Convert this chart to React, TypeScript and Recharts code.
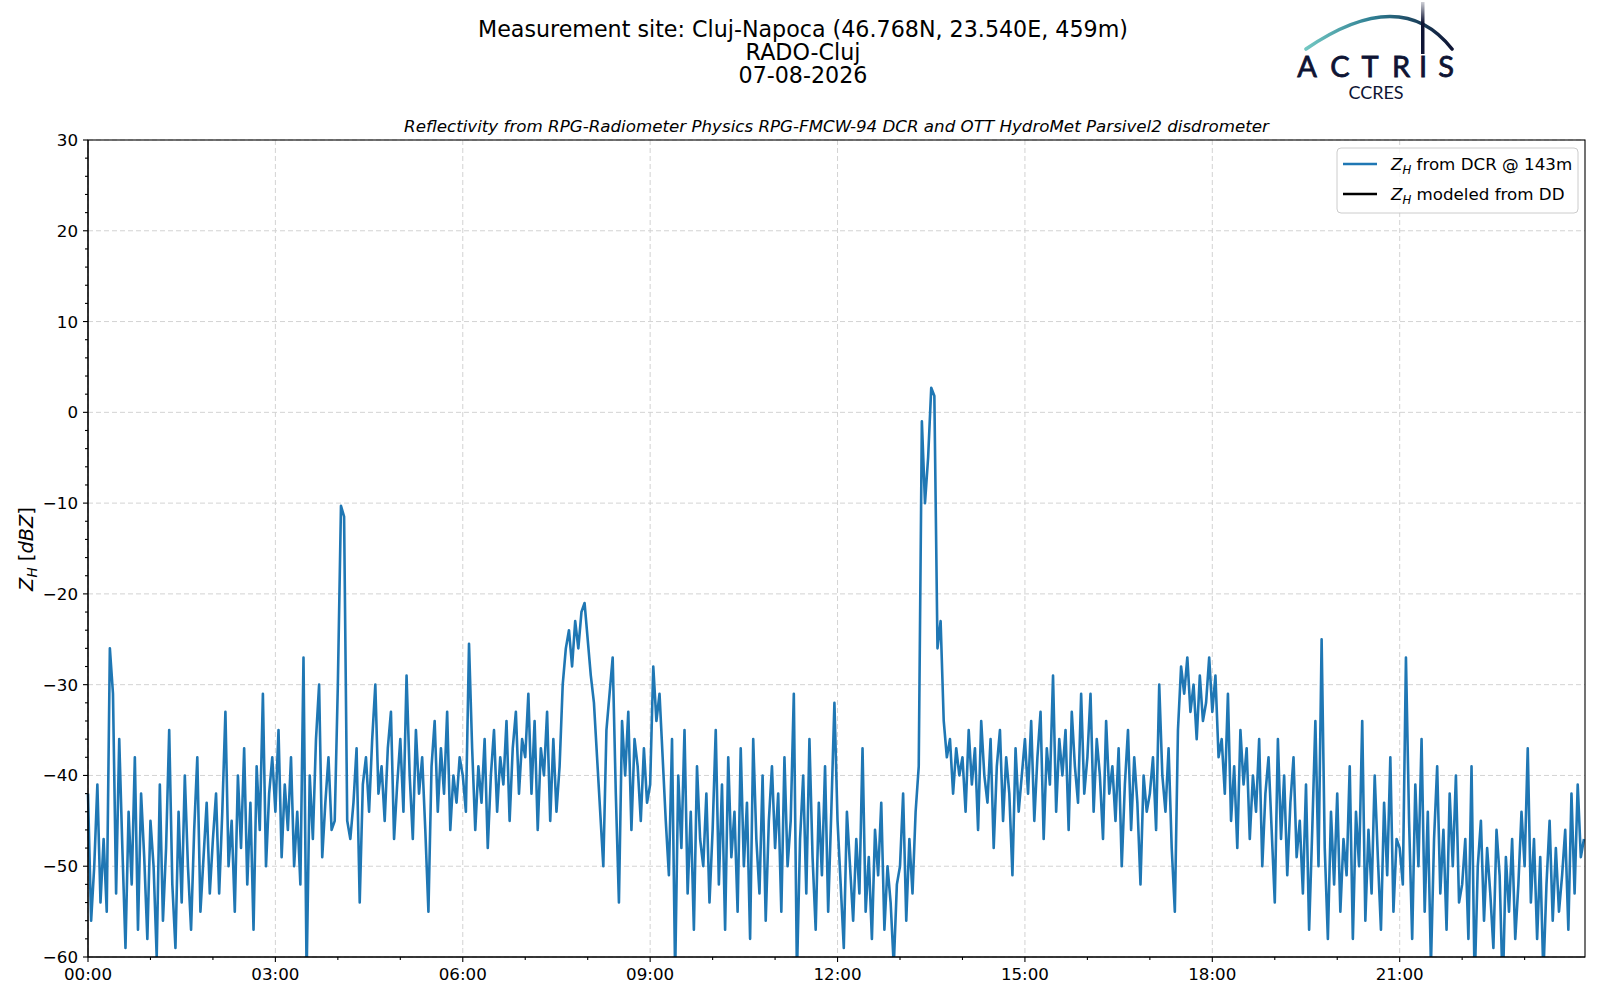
import { LineChart, Line, XAxis, YAxis, CartesianGrid } from "recharts";

// DCR reflectivity at 143 m, one value every 3 minutes, 6 hours per array
const zhNightMorning = [
  -42, -56, -50, -41, -54, -47, -55, -26, -31, -53, -36, -48, -59, -44, -52, -38, -57, -42, -49, -58,
  -45, -50, -60, -41, -56, -48, -35, -52, -59, -44, -54, -40, -50, -57, -46, -38, -55, -49, -43, -53,
  -47, -42, -53, -44, -33, -50, -45, -55, -40, -48, -37, -52, -43, -57, -39, -46, -31, -50, -42, -38,
  -44, -35, -49, -41, -46, -38, -50, -44, -52, -27, -62, -40, -47, -36, -30, -49, -43, -38, -46, -45,
  -30, -10.3, -11.5, -45, -47, -43, -37, -54, -41, -38, -44, -36, -30, -42, -39, -45, -37, -33, -47, -41,
  -36, -44, -29, -40, -47, -35, -42, -38, -46, -55, -39, -34, -44, -37, -42, -33, -46, -40, -43, -38,
];
const zhMorningNoon = [
  -40, -44, -25.5, -37, -46, -39, -43, -36, -48, -40, -35, -44, -38, -41, -34, -45, -37, -33, -42, -36,
  -38, -31, -42, -34, -46, -37, -40, -33, -45, -36, -44, -39, -30, -26, -24, -28, -23, -26, -22, -21,
  -25, -29, -32, -38, -44, -50, -35, -31, -27, -42, -54, -34, -40, -33, -46, -36, -39, -45, -37, -43,
  -41, -28, -34, -31, -38, -45, -51, -36, -62, -40, -48, -35, -53, -44, -57, -39, -47, -50, -42, -54,
  -46, -35, -52, -41, -57, -38, -49, -44, -55, -37, -50, -43, -58, -36, -47, -53, -40, -56, -45, -39,
  -48, -42, -55, -38, -50, -45, -31, -62, -47, -40, -53, -36, -49, -57, -43, -51, -39, -55, -44, -32,
];
const zhAfternoon = [
  -45, -52, -59, -44, -50, -56, -47, -53, -37, -55, -49, -58, -46, -51, -43, -57, -50, -54, -61, -52,
  -50, -42, -56, -47, -53, -44, -39, -1, -10, -5, 2.7, 1.8, -26, -23, -34, -38, -36, -42, -37, -40,
  -38, -44, -35, -41, -37, -46, -34, -40, -43, -36, -48, -39, -35, -45, -38, -42, -51, -37, -44, -40,
  -36, -42, -34, -45, -38, -33, -47, -37, -41, -29, -44, -36, -40, -35, -46, -33, -39, -43, -31, -42,
  -38, -31, -44, -36, -40, -47, -34, -42, -39, -45, -37, -50, -41, -35, -46, -38, -43, -52, -40, -44,
  -42, -38, -46, -30, -40, -44, -37, -48, -55, -35, -28, -31, -27, -33, -30, -36, -29, -34, -32, -27,
];
const zhEvening = [
  -33, -29, -38, -36, -42, -31, -45, -39, -48, -35, -41, -37, -47, -40, -44, -36, -50, -42, -38, -46,
  -54, -36, -47, -40, -51, -43, -38, -49, -45, -53, -41, -57, -46, -34, -50, -25, -48, -58, -44, -52,
  -42, -55, -47, -51, -39, -58, -44, -50, -34, -56, -46, -53, -40, -49, -57, -43, -51, -38, -55, -47,
  -48, -52, -27, -45, -58, -41, -50, -36, -55, -44, -61, -47, -39, -53, -46, -57, -42, -50, -40, -54,
  -52, -47, -58, -39, -63, -50, -45, -56, -48, -53, -59, -46, -51, -64, -49, -55, -47, -58, -52, -44,
  -50, -37, -54, -47, -58, -49, -62, -52, -45, -56, -48, -55, -51, -46, -57, -42, -53, -41, -49, -47,
];

const STEP_MIN = 3;
const xMajorTicks = [0, 180, 360, 540, 720, 900, 1080, 1260];
const xTickLabels = ["00:00", "03:00", "06:00", "09:00", "12:00", "15:00", "18:00", "21:00"];
const xMinorTicks = [0, 60, 120, 180, 240, 300, 360, 420, 480, 540, 600, 660, 720, 780, 840, 900, 960, 1020, 1080, 1140, 1200, 1260, 1320, 1380];
const yMajorTicks = [-60, -50, -40, -30, -20, -10, 0, 10, 20, 30];
const yMinorTicks = [
  -60, -58, -56, -54, -52, -50, -48, -46, -44, -42, -40, -38, -36, -34, -32, -30, -28, -26, -24, -22,
  -20, -18, -16, -14, -12, -10, -8, -6, -4, -2, 0, 2, 4, 6, 8, 10, 12, 14, 16, 18, 20, 22, 24, 26, 28, 30,
];
const legendItems = [
  { sub: "H", text: " from DCR @ 143m", color: "#1f77b4" },
  { sub: "H", text: " modeled from DD", color: "#000000" },
];

const data = [...zhNightMorning, ...zhMorningNoon, ...zhAfternoon, ...zhEvening].map((v, i) => ({
  t: i * STEP_MIN,
  zh: v,
}));

const PLOT_LEFT = 88;
const PLOT_RIGHT = 1585;
const PLOT_TOP = 140;
const PLOT_BOTTOM = 957;
const FONT = "'DejaVu Sans', sans-serif";

function YTick(props: any) {
  const { y, payload } = props;
  const v = payload.value;
  const major = v % 10 === 0;
  return (
    <g>
      <line x1={PLOT_LEFT - (major ? 5 : 3)} x2={PLOT_LEFT} y1={y} y2={y} stroke="#000" strokeWidth={1.1} />
      {major && (
        <text x={PLOT_LEFT - 10} y={y} dy="0.36em" textAnchor="end" fontSize={16.7} fontFamily={FONT} fill="#000">
          {v < 0 ? "\u2212" + Math.abs(v) : String(v)}
        </text>
      )}
    </g>
  );
}

function XTick(props: any) {
  const { x, payload } = props;
  const idx = xMajorTicks.indexOf(payload.value);
  const major = idx >= 0;
  return (
    <g>
      <line x1={x} x2={x} y1={PLOT_BOTTOM} y2={PLOT_BOTTOM + (major ? 5 : 3)} stroke="#000" strokeWidth={1.1} />
      {major && (
        <text x={x} y={PLOT_BOTTOM + 10} dy="0.76em" textAnchor="middle" fontSize={16.7} fontFamily={FONT} fill="#000">
          {xTickLabels[idx]}
        </text>
      )}
    </g>
  );
}

export default function App() {
  return (
    <div style={{ position: "absolute", left: 0, top: 0, width: 1600, height: 1000, background: "#fff" }}>
      <LineChart
        width={1600}
        height={1000}
        data={data}
        margin={{ top: PLOT_TOP, right: 1600 - PLOT_RIGHT, bottom: 13, left: 28 }}
      >
        <CartesianGrid
          stroke="#d3d3d3"
          strokeDasharray="5 3"
          horizontalValues={yMajorTicks}
          verticalValues={xMajorTicks}
        />
        <XAxis
          dataKey="t"
          type="number"
          domain={[0, 1438]}
          ticks={xMinorTicks}
          interval={0}
          tick={<XTick />}
          tickLine={false}
          axisLine={{ stroke: "#000", strokeWidth: 1.1 }}
          height={30}
        />
        <YAxis
          type="number"
          domain={[-60, 30]}
          allowDataOverflow
          ticks={yMinorTicks}
          interval={0}
          tick={<YTick />}
          tickLine={false}
          axisLine={{ stroke: "#000", strokeWidth: 1.1 }}
          width={60}
        />
        <Line
          type="linear"
          dataKey="zh"
          stroke="#1f77b4"
          strokeWidth={2.6}
          dot={false}
          strokeLinejoin="round"
          isAnimationActive={false}
        />
      </LineChart>

      <svg
        width={1600}
        height={1000}
        style={{ position: "absolute", left: 0, top: 0, pointerEvents: "none" }}
      >
        <defs>
          <linearGradient id="arcGrad" x1="0" y1="0" x2="1" y2="0">
            <stop offset="0%" stopColor="#72c7c2" />
            <stop offset="45%" stopColor="#2f7f93" />
            <stop offset="100%" stopColor="#0e1434" />
          </linearGradient>
          <linearGradient id="barGrad" x1="0" y1="0" x2="0" y2="1">
            <stop offset="0%" stopColor="#0e1434" stopOpacity={0.2} />
            <stop offset="40%" stopColor="#0e1434" stopOpacity={1} />
          </linearGradient>
        </defs>

        {/* plot frame */}
        <rect
          x={PLOT_LEFT}
          y={PLOT_TOP}
          width={PLOT_RIGHT - PLOT_LEFT}
          height={PLOT_BOTTOM - PLOT_TOP}
          fill="none"
          stroke="#000"
          strokeWidth={1.1}
        />

        {/* titles */}
        <g fontFamily={FONT} fill="#000" textAnchor="middle" fontSize={22.2}>
          <text x={803} y={29} dy="0.36em">Measurement site: Cluj-Napoca (46.768N, 23.540E, 459m)</text>
          <text x={803} y={52} dy="0.36em">RADO-Cluj</text>
          <text x={803} y={75} dy="0.36em">07-08-2026</text>
        </g>
        <text x={(PLOT_LEFT + PLOT_RIGHT) / 2} y={126} dy="0.36em" textAnchor="middle" fontFamily={FONT} fontSize={16.7} fontStyle="italic">
          Reflectivity from RPG-Radiometer Physics RPG-FMCW-94 DCR and OTT HydroMet Parsivel2 disdrometer
        </text>

        {/* y label */}
        <text
          transform="translate(26,549) rotate(-90)"
          textAnchor="middle"
          fontFamily={FONT}
          fontSize={19.4}
          dy="0.36em"
        >
          <tspan fontStyle="italic">Z</tspan>
          <tspan fontStyle="italic" fontSize={13.6} dy="4">H</tspan>
          <tspan dy="-4"> [</tspan>
          <tspan fontStyle="italic">dBZ</tspan>
          <tspan>]</tspan>
        </text>

        {/* legend */}
        <rect x={1337} y={148} width={241} height={65} rx={4} fill="#fff" fillOpacity={0.8} stroke="#cccccc" strokeWidth={1} />
        {legendItems.map((item, i) => (
          <g key={i}>
            <line x1={1343} x2={1377} y1={164 + i * 30} y2={164 + i * 30} stroke={item.color} strokeWidth={2.6} />
            <text x={1391} y={164 + i * 30} dy="0.36em" fontFamily={FONT} fontSize={16.7}>
              <tspan fontStyle="italic">Z</tspan>
              <tspan fontStyle="italic" fontSize={11.7} dy="4">{item.sub}</tspan>
              <tspan dy="-4">{item.text}</tspan>
            </text>
          </g>
        ))}

        {/* ACTRIS logo */}
        <path d="M1306 49 Q1401 -16 1452 49" fill="none" stroke="url(#arcGrad)" strokeWidth={3.6} strokeLinecap="round" />
        <rect x={1421} y={2} width={3.5} height={52} fill="url(#barGrad)" />
        <g fontFamily="Lato, 'Open Sans', sans-serif" fontSize={29} fill="#0e1434" stroke="#0e1434" strokeWidth={0.8} textAnchor="middle">
          <text x={1307} y={77}>A</text>
          <text x={1340} y={77}>C</text>
          <text x={1370} y={77}>T</text>
          <text x={1401} y={77}>R</text>
          <text x={1423} y={77}>I</text>
          <text x={1446} y={77}>S</text>
        </g>
        <text x={1376} y={99} textAnchor="middle" fontFamily="Lato, 'Open Sans', sans-serif" fontSize={18} fill="#0e1434">
          CCRES
        </text>
      </svg>
    </div>
  );
}
